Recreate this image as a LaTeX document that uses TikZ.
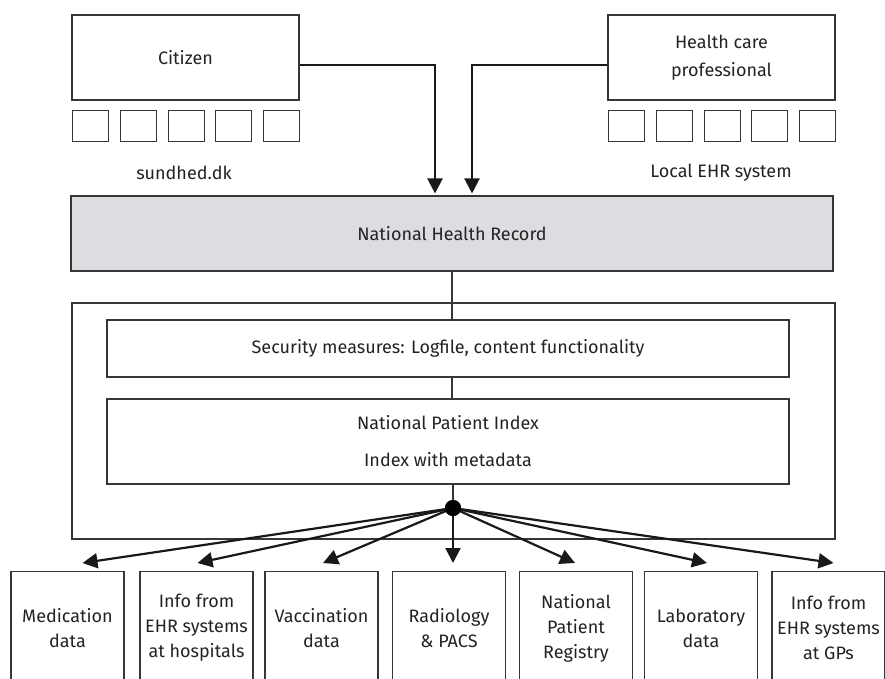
\documentclass[tikz,border=0pt]{standalone}
\usepackage{fontspec}
\setmainfont{Fira Sans}
\usetikzlibrary{arrows.meta}
\definecolor{nhrgray}{RGB}{220,221,224}
\definecolor{linegray}{RGB}{55,55,55}
\definecolor{textgray}{RGB}{35,35,35}
\begin{document}
\begin{tikzpicture}
[x=1pt,y=-1pt,
 box/.style={draw=linegray,line width=1.1pt,inner sep=0pt,align=center,
   font=\fontsize{18}{25}\selectfont,text=textgray},
 plain/.style={font=\fontsize{18}{25}\selectfont,text=textgray},
 conn/.style={line width=2.2pt,draw=black!90,-{Triangle[length=15pt,width=15pt]}},
 link/.style={draw=linegray,line width=1.1pt}]
\clip (0,0) rectangle (885,679);
%% the two users with their systems
\node[box,minimum width=227pt,minimum height=85pt] (citizen) at (185.5,57.5) {Citizen};
\node[box,minimum width=227pt,minimum height=85pt] (hcp) at (721.5,57.5) {Health care\\[3pt]professional};
\foreach \x [count=\i] in {72,119.75,167.5,215.25,263} {
  \node[box,minimum width=36pt,minimum height=31pt,anchor=north west] (cs\i) at (\x,110) {};
  \node[box,minimum width=36pt,minimum height=31pt,anchor=north west] (hs\i) at (\x+536,110) {};
}
\node[plain] (sundhed) at (184,173) {sundhed.dk};
\node[plain] (localehr) at (721,173) {Local EHR system};
%% the national record and what sits behind it
\node[box,fill=nhrgray,minimum width=762pt,minimum height=75pt] (nhr) at (452,233.5) {National Health Record};
\node[box,minimum width=763pt,minimum height=236pt] (core) at (453.5,421) {};
\node[box,minimum width=682pt,minimum height=57pt] (security) at (448,348.5)
  {Security measures: Logfile, content functionality};
\node[box,minimum width=682pt,minimum height=85pt] (npi) at (448,441.5)
  {National Patient Index\\[12pt]Index with metadata};
\node[circle,fill=black,inner sep=0pt,minimum size=16pt] (hub) at (453,508) {};
\draw[link] (nhr.south) -- (nhr.south |- security.north);
\draw[link] (nhr.south |- security.south) -- (nhr.south |- npi.north);
\draw[link] (hub |- npi.south) -- (hub);
%% access from the users
\draw[conn,shorten >=2pt] ([yshift=-7.5pt]citizen.east) -| ([xshift=-17pt]nhr.north);
\draw[conn,shorten >=2pt] ([yshift=-7.5pt]hcp.west) -| ([xshift=20pt]nhr.north);
%% the data sources
\foreach \name/\x/\dx/\txt in {med/67.5/15/Medication\\data,
  hosp/196.5/1/Info from\\EHR systems\\at hospitals,
  vacc/321.5/1.5/Vaccination\\data,
  radio/449/4/Radiology\\\& PACS,
  registry/576/-1/National\\Patient\\Registry,
  lab/701/6/Laboratory\\data,
  gps/828.5/5/Info from\\EHR systems\\at GPs} {
  \node[box,minimum width=113pt,minimum height=113pt,anchor=north] (\name) at (\x,571) {\txt};
  \draw[conn] (hub.center) -- ([xshift=\dx pt,yshift=8pt]\name.north);
}
\node[circle,fill=black,inner sep=0pt,minimum size=16pt] at (hub) {};
\end{tikzpicture}
\end{document}
